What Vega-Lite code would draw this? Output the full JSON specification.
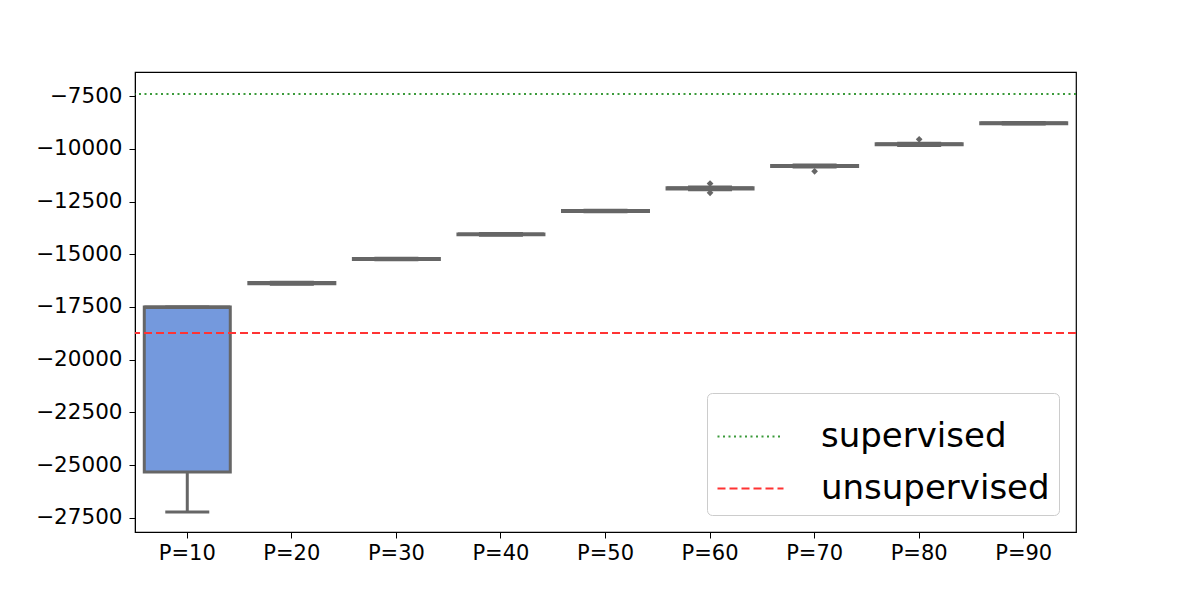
{
  "$schema": "https://vega.github.io/schema/vega-lite/v6.json",
  "width": 941,
  "height": 460,
  "autosize": {"type": "none"},
  "padding": {"left": 135, "top": 72, "right": 120, "bottom": 76},
  "background": "white",
  "datasets": {
    "boxes": [
      {"P": "P=10", "lower": -27230, "q1": -25331, "median": -17510, "q3": -17500, "upper": -17500},
      {"P": "P=20", "lower": -16420, "q1": -16400, "median": -16361, "q3": -16340, "upper": -16330},
      {"P": "P=30", "lower": -15260, "q1": -15250, "median": -15222, "q3": -15200, "upper": -15190},
      {"P": "P=40", "lower": -14090, "q1": -14070, "median": -14050, "q3": -14030, "upper": -14010},
      {"P": "P=50", "lower": -12980, "q1": -12965, "median": -12944, "q3": -12925, "upper": -12910},
      {"P": "P=60", "lower": -11930, "q1": -11900, "median": -11866, "q3": -11835, "upper": -11800},
      {"P": "P=70", "lower": -10860, "q1": -10835, "median": -10808, "q3": -10780, "upper": -10755},
      {"P": "P=80", "lower": -9830, "q1": -9805, "median": -9778, "q3": -9750, "upper": -9725},
      {"P": "P=90", "lower": -8820, "q1": -8800, "median": -8781, "q3": -8760, "upper": -8740}
    ],
    "outliers": [
      {"P": "P=60", "v": -11640},
      {"P": "P=60", "v": -12080},
      {"P": "P=70", "v": -11060},
      {"P": "P=80", "v": -9540}
    ],
    "refs": [
      {"name": "supervised", "v": -7390},
      {"name": "unsupervised", "v": -18734}
    ]
  },
  "encoding": {
    "x": {
      "field": "P",
      "type": "nominal",
      "sort": ["P=10", "P=20", "P=30", "P=40", "P=50", "P=60", "P=70", "P=80", "P=90"],
      "scale": {"paddingInner": 0, "paddingOuter": 0},
      "axis": {"title": null, "labelAngle": 0, "labelFontSize": 21, "labelPadding": 4, "tickSize": 6, "labelColor": "black", "tickColor": "black", "domainColor": "black"}
    }
  },
  "layer": [
    {
      "data": {"name": "boxes"},
      "mark": {"type": "rule", "color": "#666666", "strokeWidth": 3},
      "encoding": {
        "y": {"field": "lower", "type": "quantitative", "scale": {"domain": [-28179, -6347], "nice": false, "zero": false},
          "axis": {"title": null, "values": [-27500, -25000, -22500, -20000, -17500, -15000, -12500, -10000, -7500], "format": "d", "labelExpr": "replace(datum.label, '-', '\u2212')", "grid": false, "labelFontSize": 21.5, "labelPadding": 7, "tickSize": 6, "labelColor": "black", "tickColor": "black", "domainColor": "black"}},
        "y2": {"field": "upper"}
      }
    },
    {
      "data": {"name": "boxes"},
      "mark": {"type": "tick", "color": "#666666", "opacity": 1, "size": 44, "thickness": 3, "orient": "horizontal"},
      "encoding": {"y": {"field": "lower", "type": "quantitative"}}
    },
    {
      "data": {"name": "boxes"},
      "mark": {"type": "tick", "color": "#666666", "opacity": 1, "size": 44, "thickness": 3, "orient": "horizontal"},
      "encoding": {"y": {"field": "upper", "type": "quantitative"}}
    },
    {
      "data": {"name": "boxes"},
      "mark": {"type": "bar", "size": 86, "fill": "#7499dd", "stroke": "#666666", "strokeWidth": 3},
      "encoding": {"y": {"field": "q1", "type": "quantitative"}, "y2": {"field": "q3"}}
    },
    {
      "data": {"name": "boxes"},
      "mark": {"type": "tick", "color": "#666666", "opacity": 1, "size": 86, "thickness": 3.5, "orient": "horizontal"},
      "encoding": {"y": {"field": "median", "type": "quantitative"}}
    },
    {
      "data": {"name": "outliers"},
      "mark": {"type": "point", "shape": "diamond", "filled": true, "color": "#666666", "size": 45, "opacity": 1},
      "encoding": {"y": {"field": "v", "type": "quantitative"}}
    },
    {
      "data": {"name": "refs"},
      "mark": {"type": "rule", "strokeWidth": 2.2},
      "encoding": {
        "x": null,
        "y": {"field": "v", "type": "quantitative"},
        "color": {"field": "name", "type": "nominal", "scale": {"domain": ["supervised", "unsupervised"], "range": ["#3a9a3a", "#ff3333"]}, "legend": {"title": null}},
        "strokeDash": {"field": "name", "type": "nominal", "scale": {"domain": ["supervised", "unsupervised"], "range": [[2, 3.5], [8, 4]]}, "legend": {"title": null}}
      }
    }
  ],
  "config": {
    "font": "DejaVu Sans",
    "view": {"stroke": "black", "strokeWidth": 1.2},
    "legend": {
      "orient": "bottom-right",
      "offset": 17,
      "labelFontSize": 34,
      "labelLimit": 0,
      "labelColor": "black",
      "symbolType": "stroke",
      "symbolSize": 4356,
      "symbolStrokeWidth": 2.2,
      "labelOffset": 36,
      "rowPadding": -9,
      "padding": 9,
      "strokeColor": "#cccccc",
      "cornerRadius": 5,
      "fillColor": "white"
    }
  }
}
